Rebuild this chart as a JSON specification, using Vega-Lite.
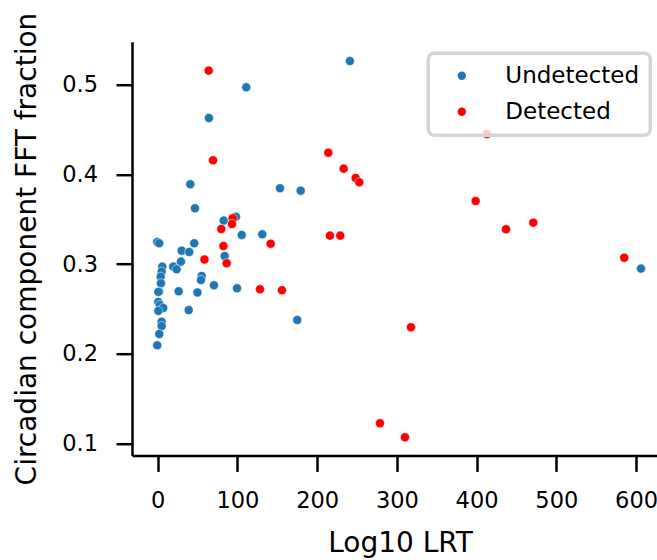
{
  "$schema": "https://vega.github.io/schema/vega-lite/v6.json",
  "autosize": {"type": "none"},
  "padding": {"left": 132, "top": 41.7, "right": 0, "bottom": 104.6},
  "width": 525,
  "height": 413.7,
  "background": "white",
  "config": {
    "view": {"stroke": null},
    "font": "DejaVu Sans",
    "axis": {
      "grid": false,
      "domainColor": "black",
      "domainWidth": 2.5,
      "tickColor": "black",
      "tickWidth": 2.5,
      "tickSize": 16,
      "labelPadding": 18.5,
      "labelFont": "DejaVu Sans",
      "labelFontSize": 22.5,
      "labelColor": "black",
      "titleFont": "DejaVu Sans",
      "titleFontSize": 28,
      "titleFontWeight": "normal",
      "titleColor": "black"
    },
    "legend": {
      "orient": "none",
      "legendX": 296.3,
      "legendY": 11.6,
      "padding": 11,
      "fillColor": "rgba(255,255,255,0.8)",
      "strokeColor": "#d6d6d6",
      "strokeWidth": 3.5,
      "cornerRadius": 6,
      "rowPadding": 12,
      "labelFont": "DejaVu Sans",
      "labelFontSize": 23,
      "labelColor": "black",
      "symbolSize": 70,
      "symbolType": "circle",
      "symbolStrokeWidth": 0,
      "symbolOffset": 11,
      "labelOffset": 32
    }
  },
  "data": {
    "values": [
      {"lrt": -0.5, "fft": 0.3247, "group": "Undetected"},
      {"lrt": 2.0, "fft": 0.3233, "group": "Undetected"},
      {"lrt": 30.1, "fft": 0.3150, "group": "Undetected"},
      {"lrt": 39.6, "fft": 0.3136, "group": "Undetected"},
      {"lrt": 45.9, "fft": 0.3233, "group": "Undetected"},
      {"lrt": 105.4, "fft": 0.3326, "group": "Undetected"},
      {"lrt": 84.0, "fft": 0.3091, "group": "Undetected"},
      {"lrt": 29.2, "fft": 0.3028, "group": "Undetected"},
      {"lrt": 19.6, "fft": 0.2972, "group": "Undetected"},
      {"lrt": 23.8, "fft": 0.2943, "group": "Undetected"},
      {"lrt": 5.8, "fft": 0.2972, "group": "Undetected"},
      {"lrt": 5.0, "fft": 0.2916, "group": "Undetected"},
      {"lrt": 3.8, "fft": 0.2860, "group": "Undetected"},
      {"lrt": 4.1, "fft": 0.2786, "group": "Undetected"},
      {"lrt": 2.0, "fft": 0.2693, "group": "Undetected"},
      {"lrt": 0.8, "fft": 0.2690, "group": "Undetected"},
      {"lrt": 55.2, "fft": 0.2868, "group": "Undetected"},
      {"lrt": 54.3, "fft": 0.2823, "group": "Undetected"},
      {"lrt": 26.3, "fft": 0.2697, "group": "Undetected"},
      {"lrt": 49.9, "fft": 0.2684, "group": "Undetected"},
      {"lrt": 70.6, "fft": 0.2764, "group": "Undetected"},
      {"lrt": 99.5, "fft": 0.2730, "group": "Undetected"},
      {"lrt": 0.8, "fft": 0.2578, "group": "Undetected"},
      {"lrt": 2.9, "fft": 0.2545, "group": "Undetected"},
      {"lrt": 7.0, "fft": 0.2511, "group": "Undetected"},
      {"lrt": 0.8, "fft": 0.2478, "group": "Undetected"},
      {"lrt": 38.9, "fft": 0.2488, "group": "Undetected"},
      {"lrt": 5.0, "fft": 0.2357, "group": "Undetected"},
      {"lrt": 5.0, "fft": 0.2309, "group": "Undetected"},
      {"lrt": 2.0, "fft": 0.2220, "group": "Undetected"},
      {"lrt": -0.5, "fft": 0.2094, "group": "Undetected"},
      {"lrt": 111.1, "fft": 0.4974, "group": "Undetected"},
      {"lrt": 64.3, "fft": 0.4632, "group": "Undetected"},
      {"lrt": 40.9, "fft": 0.3892, "group": "Undetected"},
      {"lrt": 153.4, "fft": 0.3847, "group": "Undetected"},
      {"lrt": 179.4, "fft": 0.3820, "group": "Undetected"},
      {"lrt": 46.8, "fft": 0.3624, "group": "Undetected"},
      {"lrt": 98.2, "fft": 0.3530, "group": "Undetected"},
      {"lrt": 82.8, "fft": 0.3486, "group": "Undetected"},
      {"lrt": 131.2, "fft": 0.3333, "group": "Undetected"},
      {"lrt": 175.1, "fft": 0.2377, "group": "Undetected"},
      {"lrt": 606.2, "fft": 0.2950, "group": "Undetected"},
      {"lrt": 241.1, "fft": 0.5268, "group": "Undetected"},
      {"lrt": 64.0, "fft": 0.5160, "group": "Detected"},
      {"lrt": 69.4, "fft": 0.4159, "group": "Detected"},
      {"lrt": 214.0, "fft": 0.4244, "group": "Detected"},
      {"lrt": 233.3, "fft": 0.4066, "group": "Detected"},
      {"lrt": 248.3, "fft": 0.3962, "group": "Detected"},
      {"lrt": 252.9, "fft": 0.3914, "group": "Detected"},
      {"lrt": 94.1, "fft": 0.3512, "group": "Detected"},
      {"lrt": 93.2, "fft": 0.3448, "group": "Detected"},
      {"lrt": 79.8, "fft": 0.3393, "group": "Detected"},
      {"lrt": 141.7, "fft": 0.3228, "group": "Detected"},
      {"lrt": 216.1, "fft": 0.3318, "group": "Detected"},
      {"lrt": 229.0, "fft": 0.3318, "group": "Detected"},
      {"lrt": 82.5, "fft": 0.3203, "group": "Detected"},
      {"lrt": 86.5, "fft": 0.3010, "group": "Detected"},
      {"lrt": 58.7, "fft": 0.3052, "group": "Detected"},
      {"lrt": 128.3, "fft": 0.2720, "group": "Detected"},
      {"lrt": 155.9, "fft": 0.2708, "group": "Detected"},
      {"lrt": 317.7, "fft": 0.2295, "group": "Detected"},
      {"lrt": 278.8, "fft": 0.1224, "group": "Detected"},
      {"lrt": 310.2, "fft": 0.1067, "group": "Detected"},
      {"lrt": 413.0, "fft": 0.4453, "group": "Detected"},
      {"lrt": 398.8, "fft": 0.3705, "group": "Detected"},
      {"lrt": 436.9, "fft": 0.3389, "group": "Detected"},
      {"lrt": 471.1, "fft": 0.3463, "group": "Detected"},
      {"lrt": 585.2, "fft": 0.3072, "group": "Detected"}
    ]
  },
  "mark": {"type": "point", "shape": "circle", "filled": true, "opacity": 1, "size": 82, "stroke": "white", "strokeWidth": 0.5},
  "encoding": {
    "x": {
      "field": "lrt",
      "type": "quantitative",
      "scale": {"domain": [-32.2, 626.3], "nice": false, "zero": false},
      "axis": {"title": "Log10 LRT", "values": [0, 100, 200, 300, 400, 500, 600], "format": "d", "titlePadding": 17, "titleX": 268, "titleAnchor": "middle"}
    },
    "y": {
      "field": "fft",
      "type": "quantitative",
      "scale": {"domain": [0.0865, 0.5483], "nice": false, "zero": false},
      "axis": {"title": "Circadian component FFT fraction", "values": [0.1, 0.2, 0.3, 0.4, 0.5], "format": ".1f", "titlePadding": 20}
    },
    "color": {
      "field": "group",
      "type": "nominal",
      "scale": {"domain": ["Undetected", "Detected"], "range": ["#1f77b4", "#ff0000"]},
      "legend": {"title": null}
    }
  }
}
